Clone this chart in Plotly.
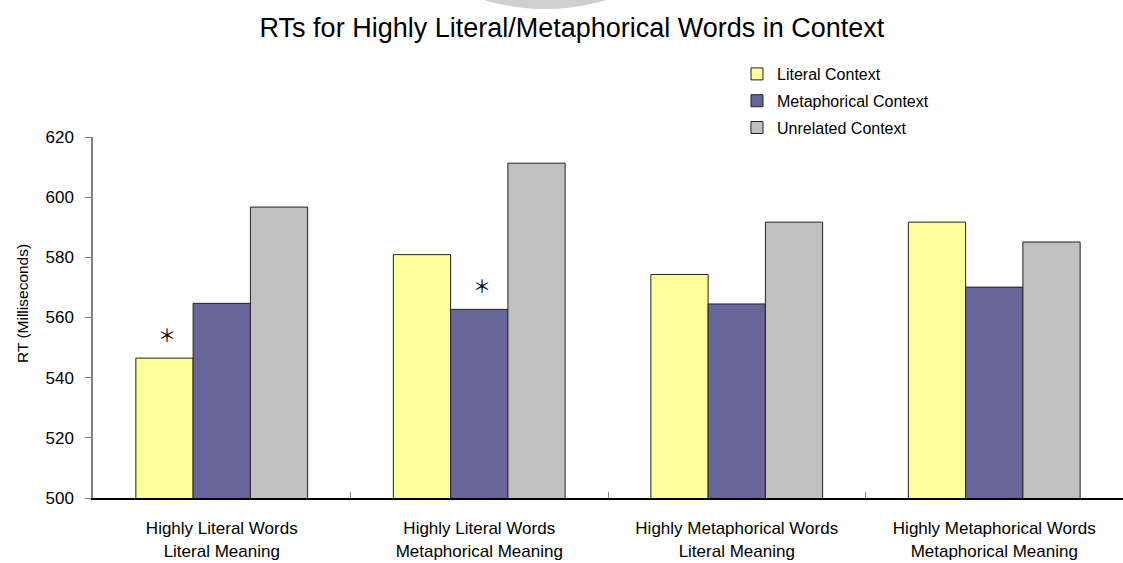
import plotly.graph_objects as go

categories = [
    "Highly Literal Words<br>Literal Meaning",
    "Highly Literal Words<br>Metaphorical Meaning",
    "Highly Metaphorical Words<br>Literal Meaning",
    "Highly Metaphorical Words<br>Metaphorical Meaning",
]
series_names = ["Literal Context", "Metaphorical Context", "Unrelated Context"]
literal_ctx = [546.5, 580.9, 574.3, 591.7]
metaphorical_ctx = [564.7, 562.7, 564.5, 570.1]
unrelated_ctx = [596.7, 611.3, 591.7, 585.1]
series_values = [literal_ctx, metaphorical_ctx, unrelated_ctx]
colors = ["#FFFF99", "#666699", "#C0C0C0"]
# significance markers: (category index, series index)
significant = [(0, 0), (1, 1)]

y_ticks = [500, 520, 540, 560, 580, 600, 620]
y_title = "RT (Milliseconds)"

FONT = "Liberation Sans, Arial, sans-serif"
W, H = 1123, 563
ML, MR, MT, MB = 93, 0, 137, 65
BARGAP = 0.333

fig = go.Figure()
for i, (name, vals, col) in enumerate(zip(series_names, series_values, colors)):
    fig.add_trace(go.Bar(
        x=categories, y=vals, name=name, legendgroup=name,
        marker=dict(color=col, line=dict(color="#222222", width=1)),
        hoverinfo="x+y+name",
    ))

# asterisks over significant bars
plot_w = W - ML - MR
plot_h = H - MT - MB
cat_w = plot_w / len(categories)
bar_w = cat_w * (1 - BARGAP) / len(series_names)
for ci, si in significant:
    off = (si - (len(series_names) - 1) / 2) * bar_w
    fig.add_annotation(
        x=categories[ci], y=series_values[si][ci], xref="x", yref="y",
        text="＊", showarrow=False, xshift=off + 3, yshift=24, yanchor="middle",
        font=dict(family="Noto Sans CJK SC", size=18, color="#000000"),
    )

# y-axis title (placed as rotated annotation to match position)
fig.add_annotation(
    text=y_title, xref="paper", yref="paper",
    x=(22 - ML) / plot_w, y=(H - MB - 304) / plot_h,
    xanchor="center", yanchor="middle", textangle=-90, showarrow=False,
    font=dict(family=FONT, size=15.5, color="#000000"),
)

# faint watermark seal partially visible at top
fig.add_shape(
    type="circle", xref="paper", yref="paper",
    x0=(425 - ML) / plot_w, x1=(665 - ML) / plot_w,
    y0=(H - MB - 9) / plot_h, y1=(H - MB + 120) / plot_h,
    fillcolor="rgba(175,175,175,0.6)", line=dict(width=0), layer="above",
)

fig.update_layout(
    width=W, height=H,
    margin=dict(l=ML, r=MR, t=MT, b=MB, autoexpand=False),
    paper_bgcolor="white", plot_bgcolor="white",
    barmode="group", bargap=BARGAP, bargroupgap=0,
    font=dict(family=FONT, color="#000000"),
    title=dict(
        text="RTs for Highly Literal/Metaphorical Words in Context",
        x=572 / W, xanchor="center", xref="container",
        y=1 - 28 / H, yanchor="middle", yref="container",
        font=dict(family=FONT, size=27, color="#000000"),
    ),
    legend=dict(
        x=(737 - ML) / plot_w, xanchor="left",
        y=(H - MB - 57) / plot_h, yanchor="top",
        font=dict(family=FONT, size=16, color="#000000"),
        traceorder="grouped", tracegroupgap=3,
        bgcolor="rgba(0,0,0,0)", itemclick=False,
    ),
    xaxis=dict(
        type="category", range=[-0.5, len(categories) - 0.5],
        showline=True, linecolor="#000000", linewidth=2,
        ticks="inside", ticklen=6, tickcolor="#808080", tickson="boundaries",
        tickfont=dict(family=FONT, size=17, color="#000000"),
        ticklabelstandoff=14, showgrid=False, zeroline=False,
    ),
    yaxis=dict(
        range=[500, 620], tickvals=y_ticks, ticktext=[str(t) for t in y_ticks],
        showline=True, linecolor="#808080", linewidth=1.5,
        ticks="outside", ticklen=6, tickcolor="#808080",
        tickfont=dict(family=FONT, size=17, color="#000000"),
        ticklabelstandoff=8, showgrid=False, zeroline=False,
    ),
)

fig.write_html("out.html")
